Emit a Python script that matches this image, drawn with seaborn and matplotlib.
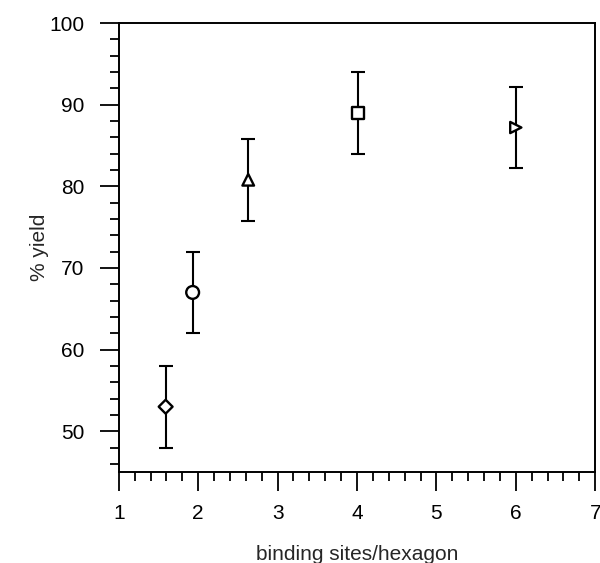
import pandas as pd
import numpy as np
import matplotlib
matplotlib.use("Agg")
import matplotlib.pyplot as plt
from matplotlib.ticker import MultipleLocator
import seaborn as sns

sns.set_style("ticks")
plt.rcParams['font.family'] = ['Liberation Sans', 'DejaVu Sans']

# binding sites per hexagon, yield (%) and error
sites = [1.59, 1.93, 2.63, 4.01, 6.0]
yields = [53.0, 67.0, 80.8, 89.0, 87.2]
errors = [5.0, 5.0, 5.0, 5.0, 5.0]
shapes = ["diamond", "circle", "triangle", "square", "right"]
marker_map = {"diamond": "D", "circle": "o", "triangle": "^", "square": "s", "right": ">"}

df = pd.DataFrame({"sites": sites, "yield": yields, "err": errors, "shape": shapes})

fig = plt.figure(figsize=(6, 5.63), dpi=100)
ax = fig.add_axes([0.198, 0.1616, 0.794, 0.7975])

ax.errorbar(df["sites"], df["yield"], yerr=df["err"], fmt="none",
            ecolor="black", elinewidth=1.5, capsize=5, capthick=1.5, zorder=2)

sns.scatterplot(data=df, x="sites", y="yield", style="shape", markers=marker_map,
                s=70, facecolor="white", edgecolor="black", linewidth=1.7,
                legend=False, ax=ax, zorder=3)
# diamond in the reference is a bit smaller
ax.collections[-1].set_sizes([50, 85, 70, 70, 65])

ax.set_xlim(1, 7)
ax.set_ylim(45, 100)
ax.xaxis.set_major_locator(MultipleLocator(1))
ax.xaxis.set_minor_locator(MultipleLocator(0.2))
ax.yaxis.set_major_locator(MultipleLocator(10))
ax.yaxis.set_minor_locator(MultipleLocator(2))

ax.tick_params(which="major", direction="out", length=14, width=1.3,
               labelsize=15, pad=9, colors="black")
ax.tick_params(which="minor", direction="out", length=6.5, width=1.3, colors="black")
ax.tick_params(axis="y", which="major", pad=11)

for s in ax.spines.values():
    s.set_linewidth(1.4)
    s.set_color("black")

ax.set_xlabel("binding sites/hexagon", fontsize=15)
ax.set_ylabel("% yield", fontsize=15)
ax.xaxis.set_label_coords(0.5, -0.163)
ax.yaxis.set_label_coords(-0.147, 0.5)

fig.savefig("out.png", dpi=100)
